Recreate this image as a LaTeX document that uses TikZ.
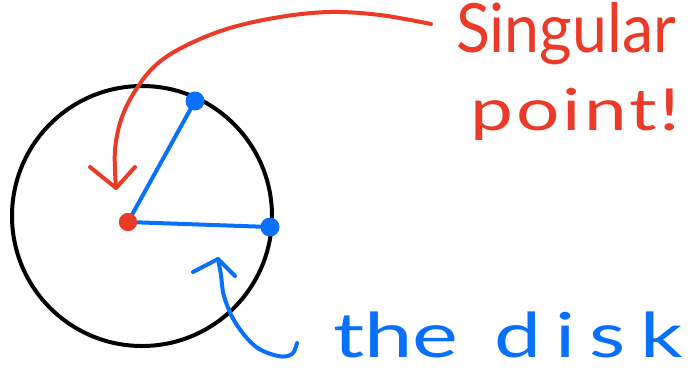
\documentclass[tikz,border=0pt]{standalone}
\usepackage{fontspec}
\setmainfont{Lato}
\definecolor{penred}{RGB}{236,58,40}
\definecolor{penblue}{RGB}{8,112,250}
\tikzset{
  pen/.style={line width=4pt, line cap=round, line join=round},
  redpen/.style={pen, draw=penred},
  bluepen/.style={pen, draw=penblue},
  dotstyle/.style={circle, inner sep=0pt, minimum size=#1},
  hand/.style={inner sep=0pt, anchor=base west},
}
\begin{document}
\begin{tikzpicture}[x=1pt,y=-1pt]
\useasboundingbox (0,0) rectangle (695,376);
% disk
\node[draw=black, line width=4pt, circle, minimum size=260pt, inner sep=0pt] (disk) at (142,216) {};
% points
\node[dotstyle=18pt, fill=penred] (center) at (128,222) {};
\node[dotstyle=19pt, fill=penblue] (ptop) at (195,101) {};
\node[dotstyle=19pt, fill=penblue] (pright) at (270,227) {};
\draw[bluepen] (center.center) -- (ptop.center);
\draw[bluepen] (center.center) -- (pright.center);
\fill[penred] (center) circle (9pt);
% red label
\node[hand, text=penred, font=\fontsize{68}{68}\selectfont] (sing) at (456,52) {\scalebox{0.92}[1]{Singular}};
\node[hand, text=penred, font=\fontsize{58}{58}\selectfont\addfontfeature{LetterSpace=4}] (point) at (470,130) {\scalebox{1.32}[1]{point!}};
\coordinate (rstart) at (431,24);
\coordinate (rtip) at (116,188);
\draw[redpen] plot[smooth, tension=0.6] coordinates {(rstart) (380,15) (330,12) (280,17) (230,28) (187,45) (157,64) (137,88) (122,117) (115,150) (rtip)};
\draw[redpen] (90,167) -- (rtip) -- (135,167);
% blue label
\node[hand, text=penblue, font=\fontsize{62}{62}\selectfont] (the) at (333,357) {\scalebox{1.4}[1]{the}};
\node[hand, text=penblue, font=\fontsize{62}{62}\selectfont\addfontfeature{LetterSpace=17}] (diskword) at (494,357) {\scalebox{1.35}[1]{disk}};
\coordinate (bstart) at (297,343);
\coordinate (btip) at (218,259);
\draw[bluepen] plot[smooth, tension=0.6] coordinates {(bstart) (292,354) (278,356) (255,346) (235,322) (224,296) (221,275) (btip)};
\draw[bluepen] (193,272) -- (btip) -- (235,276);
\end{tikzpicture}
\end{document}
